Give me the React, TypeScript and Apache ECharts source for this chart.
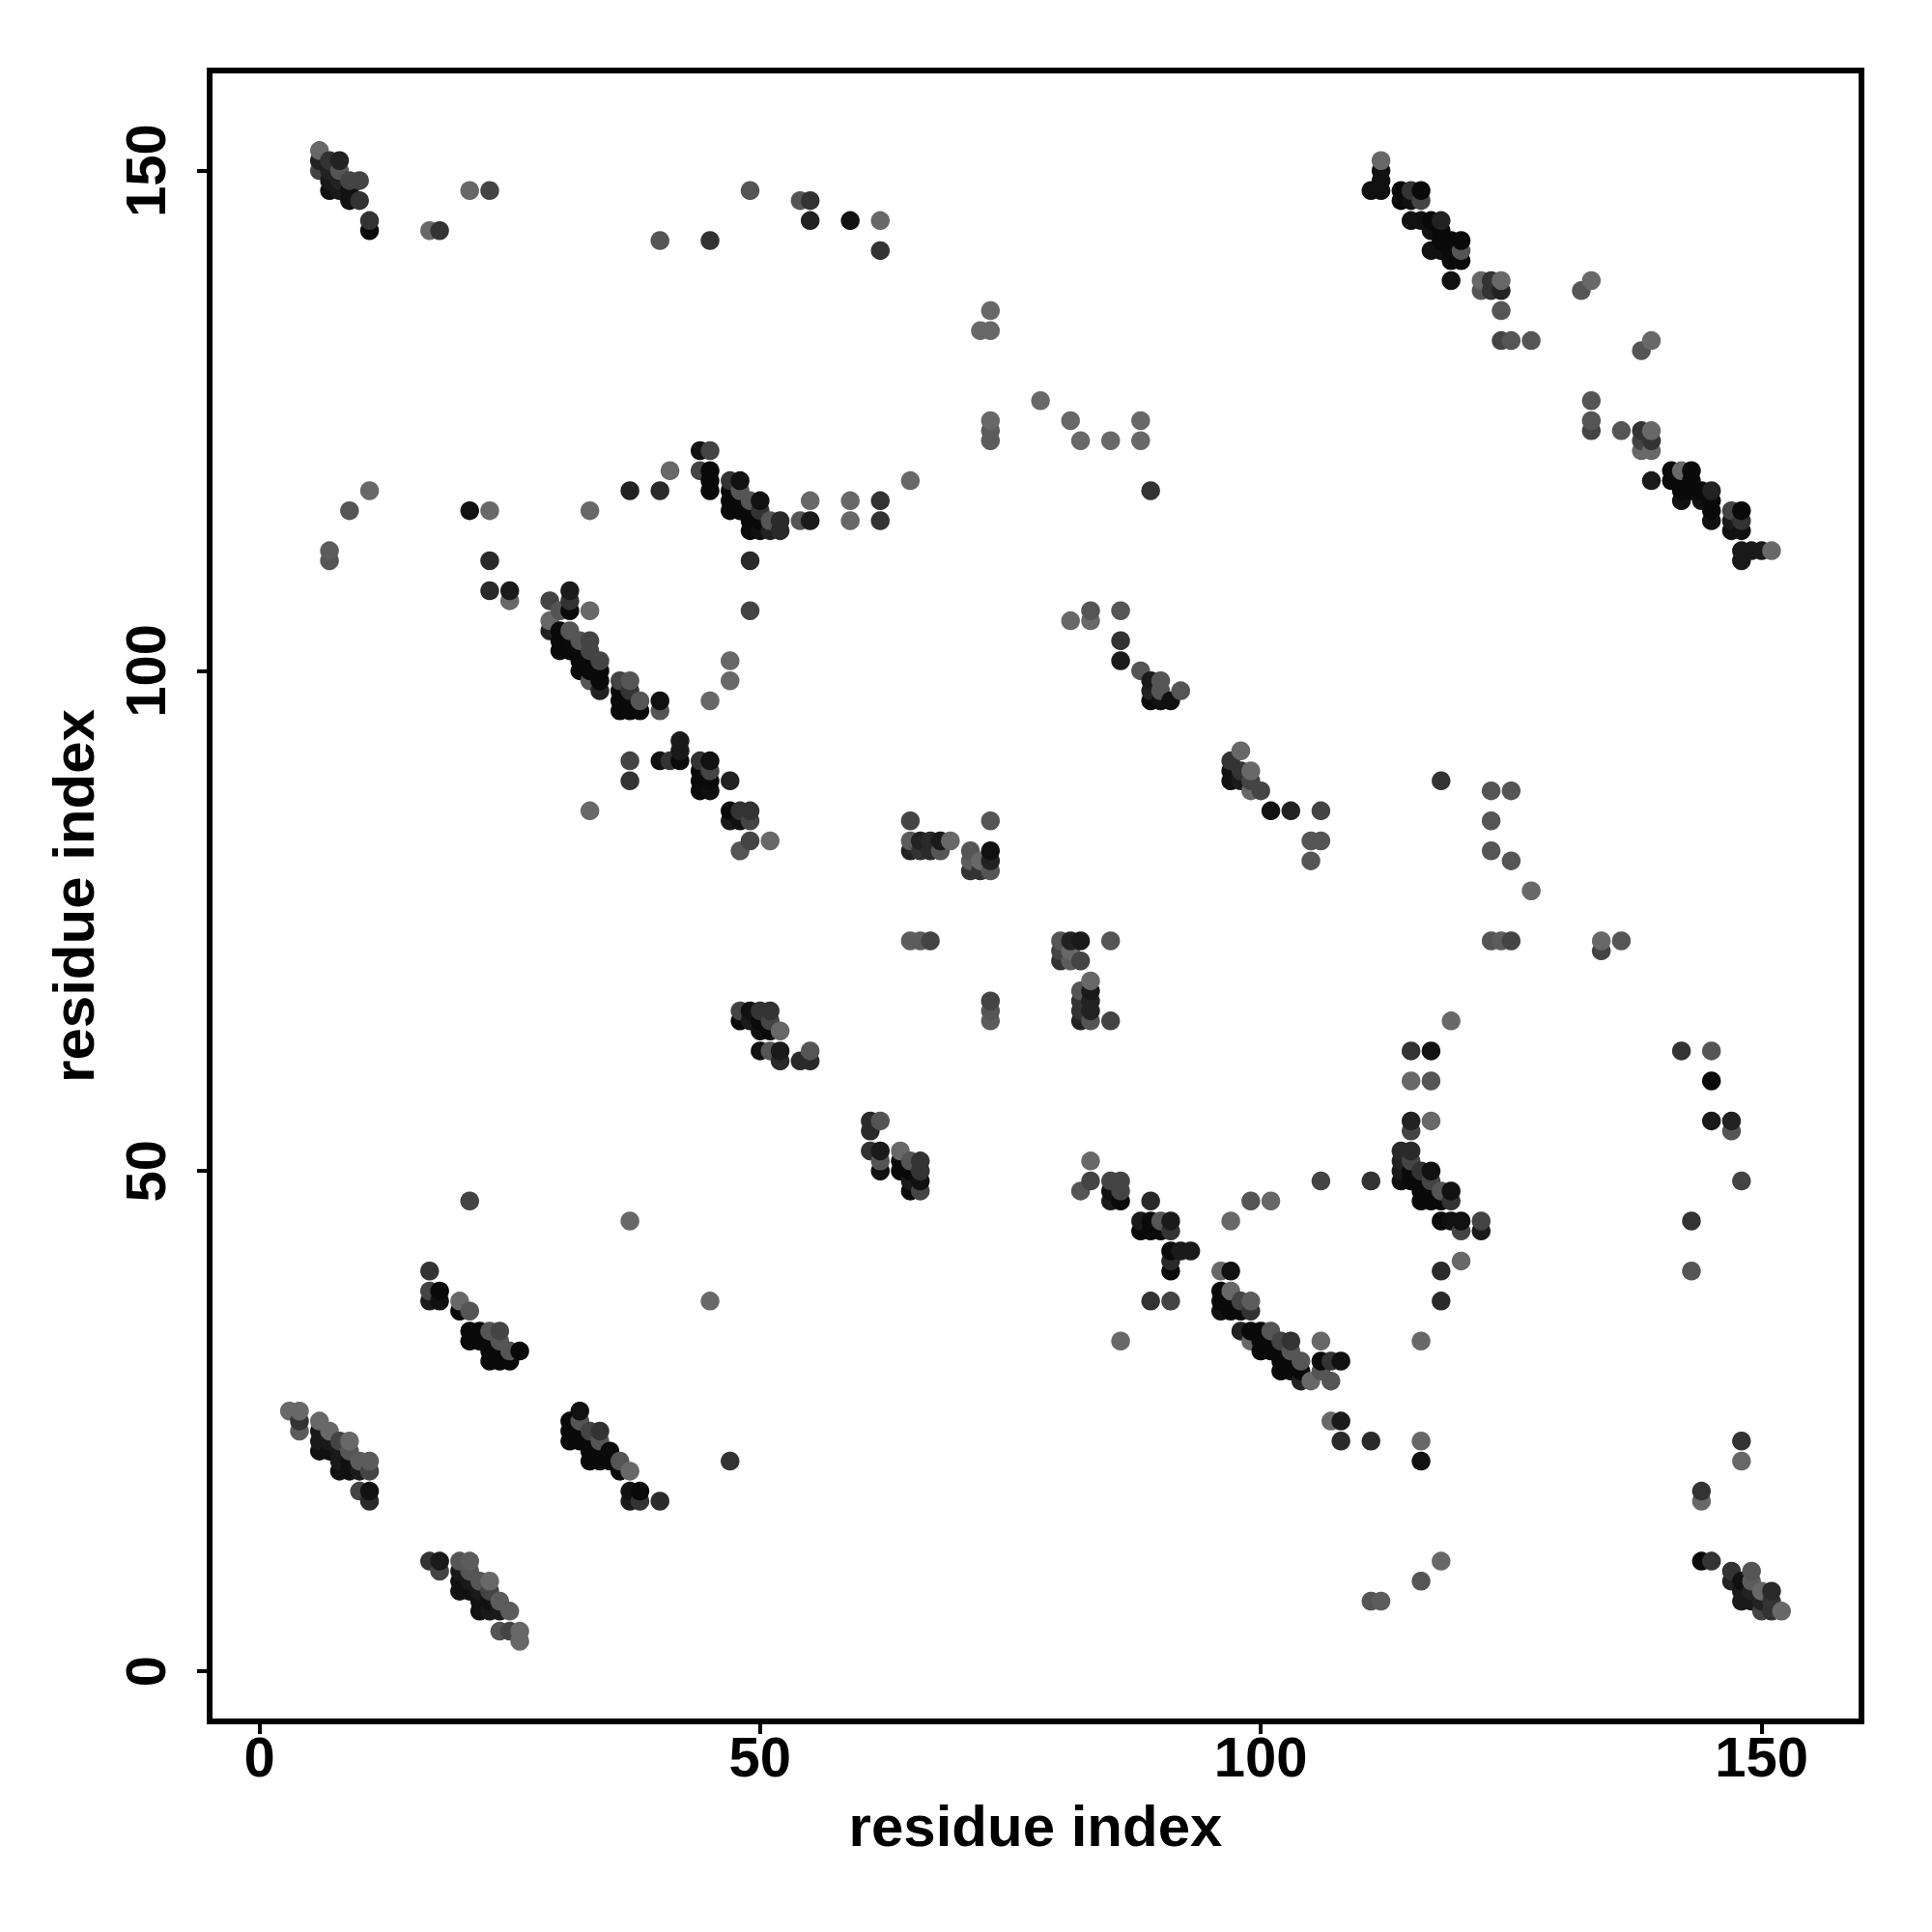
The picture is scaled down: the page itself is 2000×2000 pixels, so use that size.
import React, { useEffect, useRef } from "react";
import * as echarts from "echarts";

// contact strength shown as a grey level
const A = 10, B = 17, C = 26, D = 34, E = 42, F = 51, G = 68, H = 85, I = 92, J = 104;
type P = [number, number, number];

const tickValues = [0, 50, 100, 150];
const xAxisTitle = "residue index";
const yAxisTitle = "residue index";

const topLeft: P[] = [[6,152,J],[6,151,D],[6,150,G],[7,151,F],[8,151,D],[8,150,H],[7,150,D],[7,149,C],[8,149,D],[7,148,B],[8,148,C],[9,149,G],[10,149,G],[9,148,B],[9,147,B],[10,147,F],[11,145,F],[11,144,A],[17,144,J],[18,144,F],[21,148,J],[23,148,G],[40,143,H],[45,143,F],[49,148,H],[54,147,H],[55,147,F],[55,145,D],[59,145,B],[62,145,J],[62,142,F]];
const leftMid: P[] = [[11,118,J],[9,116,H],[21,116,B],[23,116,J],[33,116,J],[7,112,I],[7,111,H],[23,111,E],[23,108,E],[25,108,C],[25,107,J],[37,118,D],[40,118,E],[41,120,J],[44,120,G],[44,122,B],[45,122,G],[45,120,A],[45,119,A],[45,118,A]];
const helixA: P[] = [[47,119,F],[48,119,B],[47,118,A],[47,117,A],[47,116,A],[48,118,H],[48,117,A],[48,116,A],[49,117,H],[49,116,A],[50,117,B],[50,116,F],[49,115,A],[50,115,A],[49,114,A],[50,114,B],[51,115,H],[51,114,D],[52,115,E],[52,114,E],[54,115,H],[55,115,C],[55,117,J],[59,117,J],[59,115,J],[62,117,F],[62,115,F],[65,119,J],[89,118,F],[49,111,E],[49,106,G],[47,101,J],[47,99,J],[45,97,J]];
const helixB: P[] = [[29,107,G],[31,108,C],[31,107,F],[31,106,A],[33,106,J],[30,106,H],[29,105,J],[29,104,D],[30,104,A],[31,104,H],[30,103,A],[30,102,A],[31,103,A],[31,102,A],[32,103,H],[33,103,G],[32,102,A],[32,101,A],[33,102,G],[33,101,A],[34,101,G],[32,100,A],[33,100,A],[34,100,A],[33,99,H],[34,99,A],[34,98,D],[36,99,G],[37,99,H],[36,98,A],[36,97,A],[36,96,A],[37,98,F],[37,97,A],[38,97,H],[37,96,A],[38,96,A],[40,97,B],[40,96,H]];
const helixC: P[] = [[37,91,G],[37,89,F],[33,86,J],[40,91,B],[41,91,F],[42,91,A],[42,92,C],[42,93,C],[44,91,F],[45,91,B],[45,90,G],[44,90,A],[44,89,A],[45,89,A],[44,88,A],[45,88,B],[47,89,D],[47,86,A],[48,86,F],[49,86,F],[47,85,C],[48,85,B],[49,85,G],[49,83,G],[51,83,J],[48,82,H]];
const centre: P[] = [[65,85,G],[65,83,I],[66,83,D],[67,83,E],[68,83,C],[69,83,J],[65,82,D],[66,82,F],[67,82,E],[68,82,H],[73,85,H],[71,82,H],[71,81,I],[72,81,J],[71,80,F],[72,80,F],[73,80,H],[73,82,B],[73,81,D],[65,73,I],[66,73,I],[67,73,G],[80,73,H],[81,73,D],[82,73,C],[85,73,H],[80,72,G],[80,71,F],[81,72,J],[81,71,I],[82,71,G],[73,67,G],[73,66,H],[73,65,I],[83,69,J],[82,68,H],[83,68,C],[82,67,F],[83,67,D],[82,66,F],[83,66,D],[82,65,D],[83,65,H],[85,65,G]];
const strandD: P[] = [[48,66,G],[49,66,B],[50,66,F],[51,66,F],[48,65,A],[49,65,C],[50,65,A],[51,65,G],[50,64,B],[51,64,A],[52,64,J],[50,62,B],[51,62,H],[52,62,C],[52,61,E],[54,61,E],[55,62,H],[55,61,E],[61,55,E],[62,55,H],[61,54,E],[61,52,F],[62,52,C],[62,51,H],[62,50,B],[64,52,J],[65,51,H],[66,51,F],[64,51,A],[64,50,A],[65,50,A],[66,50,F],[65,49,C],[66,49,B],[65,48,A],[66,48,G]];
const strandE: P[] = [[83,51,J],[83,49,G],[82,48,H],[85,49,G],[86,49,G],[85,48,B],[86,48,G],[85,47,C],[86,47,A],[89,47,E],[88,45,C],[89,45,A],[90,45,H],[91,45,C],[88,44,A],[89,44,A],[90,44,A],[91,44,F],[91,42,A],[92,42,C],[93,42,C],[91,41,E],[91,40,A],[89,37,F],[91,37,G],[86,33,J],[99,47,H],[101,47,J],[97,45,J],[106,49,G],[111,49,F]];
const strandF: P[] = [[96,40,J],[97,40,B],[96,38,A],[97,38,J],[96,37,A],[97,37,A],[98,37,G],[99,37,I],[96,36,B],[97,36,A],[98,36,A],[99,36,F],[98,34,D],[99,34,A],[100,34,A],[101,34,H],[99,33,J],[100,33,A],[101,33,A],[102,33,G],[103,33,F],[106,33,J],[100,32,A],[101,32,A],[102,32,A],[103,32,H],[102,31,A],[103,31,A],[104,31,H],[106,31,A],[107,31,F],[108,31,B],[102,30,A],[103,30,A],[104,30,A],[106,30,H],[104,29,D],[105,29,J],[107,29,H],[107,25,J],[108,25,C],[108,23,E],[111,23,E],[116,23,J],[116,21,B],[118,40,E],[120,41,J],[118,37,E],[116,33,J]];
const strandG: P[] = [[115,62,F],[117,62,B],[115,59,J],[117,59,H],[115,55,D],[117,55,J],[115,54,G],[114,52,E],[115,52,E],[114,51,D],[115,51,G],[114,50,C],[115,50,A],[116,50,F],[117,50,B],[114,49,B],[115,49,A],[116,49,A],[117,49,G],[116,48,A],[117,48,A],[118,48,H],[119,48,B],[116,47,A],[117,47,A],[118,47,A],[119,47,F],[118,45,A],[119,45,B],[120,45,B],[122,45,G],[120,44,G],[122,44,C],[119,65,J]];
const lowerLeft: P[] = [[17,40,F],[17,38,G],[18,38,A],[17,37,C],[18,37,B],[20,37,J],[20,36,A],[21,36,H],[21,34,A],[22,34,A],[23,34,H],[24,34,G],[21,33,A],[22,33,A],[23,33,A],[24,33,H],[23,32,A],[24,32,A],[25,32,H],[26,32,A],[23,31,A],[24,31,A],[25,31,A],[21,47,G],[37,45,J],[45,37,J],[47,21,F]];
const bottomLeft: P[] = [[3,26,J],[4,26,J],[4,25,F],[4,24,I],[6,25,J],[6,24,C],[7,24,J],[6,23,C],[7,23,C],[8,23,G],[9,23,J],[6,22,B],[7,22,B],[8,22,C],[9,22,H],[8,21,C],[9,21,B],[10,21,I],[11,21,I],[8,20,B],[9,20,B],[10,20,C],[11,20,G],[10,18,G],[11,18,B],[11,17,E]];
const bottomMid: P[] = [[32,26,B],[31,25,A],[32,25,H],[31,24,A],[32,24,A],[33,24,G],[34,24,F],[31,23,A],[32,23,A],[33,23,A],[34,23,H],[33,22,A],[34,22,A],[35,22,A],[33,21,A],[34,21,A],[35,21,A],[36,21,H],[37,20,J],[36,20,A],[37,18,B],[38,18,A],[37,17,C],[38,17,F],[40,17,E]];
const bottomLow: P[] = [[17,11,F],[18,11,C],[18,10,G],[20,11,H],[21,11,I],[20,10,C],[21,10,H],[20,9,B],[21,9,C],[22,9,H],[23,9,J],[20,8,B],[21,8,B],[22,8,C],[23,8,G],[22,7,B],[23,7,B],[24,7,I],[22,6,B],[23,6,C],[24,6,C],[25,6,I],[24,4,H],[25,4,G],[26,4,J],[26,3,J]];
const bottomRight: P[] = [[111,7,H],[112,7,I],[116,9,H],[118,11,J],[144,11,A],[145,11,F],[147,10,F],[149,10,H],[147,9,D],[148,9,B],[149,9,I],[148,8,C],[149,8,D],[150,8,J],[151,8,E],[148,7,C],[149,7,C],[150,7,D],[151,7,F],[150,6,G],[151,6,F],[152,6,J],[143,45,F],[143,40,H],[144,18,F],[144,17,J],[148,23,F],[148,21,J],[148,49,G],[145,55,C],[147,55,D],[147,54,H],[145,59,A],[145,62,H],[142,62,F]];
const topRight: P[] = [[112,151,J],[112,150,B],[112,149,B],[111,148,B],[112,148,B],[114,148,A],[115,148,F],[116,148,A],[114,147,A],[115,147,B],[116,147,G],[115,145,B],[116,145,B],[117,145,A],[118,145,D],[117,144,B],[118,144,A],[118,143,A],[119,143,A],[120,143,A],[117,142,B],[118,142,B],[119,142,A],[120,142,H],[119,141,A],[120,141,A],[119,139,B],[122,139,J],[123,139,F],[124,139,J],[122,138,H],[123,138,F],[124,138,D],[124,136,H],[124,133,G],[125,133,H],[127,133,H],[132,138,H],[133,139,J]];
const rightMid: P[] = [[133,127,H],[133,125,H],[133,124,G],[136,124,H],[138,124,F],[139,124,J],[138,123,G],[139,123,F],[138,122,J],[139,122,J],[139,119,C],[141,120,A],[142,120,J],[143,120,A],[141,119,A],[142,119,A],[143,119,A],[142,118,A],[143,118,A],[144,118,A],[145,118,D],[142,117,B],[144,117,B],[145,117,A],[145,116,A],[145,115,B],[147,116,G],[148,116,A],[147,115,C],[148,115,F],[147,114,B],[148,114,B],[148,112,C],[149,112,C],[150,112,C],[151,112,J],[148,111,C],[138,132,H],[139,133,J]];
const upperMid: P[] = [[72,134,J],[73,134,J],[73,136,J],[78,127,J],[81,125,J],[88,125,J],[88,123,J],[82,123,J],[85,123,J],[73,125,J],[73,124,I],[73,123,I],[81,105,J],[83,106,H],[83,105,J],[86,106,H],[86,103,F],[86,101,C],[88,100,H],[89,99,C],[90,99,H],[89,98,D],[90,98,H],[92,98,H],[89,97,A],[90,97,B],[91,97,B]];
const midRight: P[] = [[98,92,J],[97,91,F],[97,90,B],[98,90,F],[99,90,J],[97,89,B],[98,89,C],[99,89,G],[99,88,J],[100,88,G],[101,86,B],[103,86,D],[106,86,G],[105,83,H],[106,83,H],[105,81,H],[118,89,F],[123,88,H],[125,88,H],[123,85,H],[123,82,H],[125,81,H],[127,78,J],[123,73,H],[124,73,I],[125,73,G],[134,73,J],[134,72,G],[136,73,H]];

const contacts: P[] = [topLeft, leftMid, helixA, helixB, helixC, centre, strandD, strandE, strandF, strandG, lowerLeft, bottomLeft, bottomMid, bottomLow, bottomRight, topRight, rightMid, upperMid, midRight]
  .flat()
  .sort((a, b) => a[0] - b[0] || a[1] - b[1]);

const tickFont = { fontFamily: "Liberation Sans", fontWeight: "bold" as const, fontSize: 58, color: "#000" };
const nameFont = { fontFamily: "Liberation Sans", fontWeight: "bold" as const, fontSize: 60, color: "#000" };

export default function App() {
  const ref = useRef<HTMLDivElement>(null);
  useEffect(() => {
    const chart = echarts.init(ref.current!, undefined, { renderer: "svg" });
    const axisBase = {
      type: "value" as const,
      splitLine: { show: false },
      axisLine: { show: true, onZero: false, lineStyle: { color: "#000", width: 6 } },
      axisTick: { show: true, inside: false, length: 13, customValues: tickValues, lineStyle: { color: "#000", width: 4 } },
      nameLocation: "middle" as const,
      nameMoveOverlap: false,
      nameTextStyle: nameFont,
    };
    chart.setOption({
      animation: false,
      backgroundColor: "#fff",
      grid: { left: 217, top: 73, width: 1710, height: 1709, show: true, borderColor: "#000", borderWidth: 6, backgroundColor: "transparent" },
      xAxis: {
        ...axisBase,
        position: "bottom",
        min: -4.97,
        max: 159.98,
        name: xAxisTitle,
        nameGap: 78,
        axisLabel: { ...tickFont, customValues: tickValues, margin: 7 },
      },
      yAxis: {
        ...axisBase,
        position: "left",
        min: -5.02,
        max: 160,
        name: yAxisTitle,
        nameGap: 111,
        axisLabel: { ...tickFont, customValues: tickValues, rotate: 90, margin: 67, verticalAlign: "middle", align: "center" },
      },
      series: [
        {
          type: "scatter",
          silent: true,
          symbol: "circle",
          symbolSize: 19.5,
          clip: false,
          data: contacts.map(([x, y, s]) => ({ value: [x, y], itemStyle: { color: `rgb(${s},${s},${s})`, opacity: 1 } })),
        },
      ],
    });
    return () => chart.dispose();
  }, []);
  return <div ref={ref} style={{ position: "absolute", left: 0, top: 0, width: 2000, height: 2000 }} />;
}
